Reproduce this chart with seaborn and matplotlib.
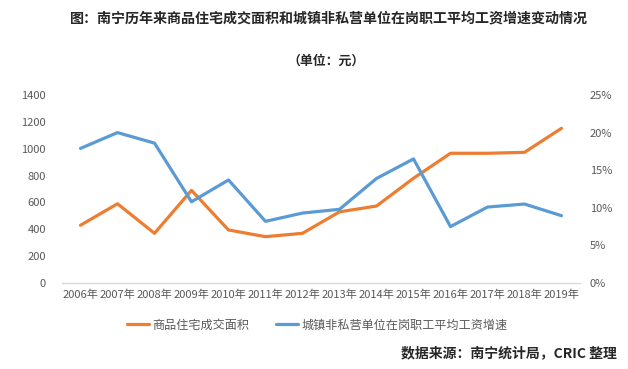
import matplotlib
matplotlib.use("Agg")
import matplotlib.pyplot as plt
import matplotlib.ticker as mticker
from matplotlib.lines import Line2D
import numpy as np
import pandas as pd
import seaborn as sns

# Datos
years = ['2006年', '2007年', '2008年', '2009年', '2010年', '2011年', '2012年',
         '2013年', '2014年', '2015年', '2016年', '2017年', '2018年', '2019年']
area = [430, 590, 370, 690, 395, 345, 370, 530, 573, 780, 966, 966, 973, 1152]
wage_growth = [0.179, 0.200, 0.186, 0.108, 0.137, 0.082, 0.093, 0.098,
               0.139, 0.165, 0.075, 0.101, 0.105, 0.0895]

area_label = '商品住宅成交面积'
wage_label = '城镇非私营单位在岗职工平均工资增速'

sns.set_style('white')
plt.rcParams['font.family'] = ['Noto Sans CJK SC', 'DejaVu Sans']

df = pd.DataFrame({'pos': np.arange(len(years)), 'area': area, 'wage': wage_growth})

orange = '#ED7D31'
blue = '#5B9BD5'
tick_color = '#595959'

fig = plt.figure(figsize=(6.28, 3.69), dpi=100)
ax = fig.add_axes([62 / 628, (369 - 283) / 369, (580 - 62) / 628, (283 - 95) / 369])
ax2 = ax.twinx()

sns.lineplot(data=df, x='pos', y='area', ax=ax, color=orange, linewidth=2.3, legend=False)
sns.lineplot(data=df, x='pos', y='wage', ax=ax2, color=blue, linewidth=2.3, legend=False)

ax.set_xlim(-0.5, len(years) - 0.5)
ax.set_ylim(0, 1400)
ax.set_yticks(range(0, 1401, 200))
ax2.set_ylim(0, 0.25)
ax2.set_yticks(np.arange(0, 0.26, 0.05))
ax2.yaxis.set_major_formatter(mticker.FuncFormatter(lambda v, p: f'{v * 100:.0f}%'))

ax.set_xticks(df['pos'])
ax.set_xticklabels(years)
for a in (ax, ax2):
    a.set_xlabel('')
    a.set_ylabel('')
    a.tick_params(length=0, labelsize=8, colors=tick_color)
    for s in a.spines.values():
        s.set_visible(False)
ax.tick_params(axis='y', pad=11.5)
ax2.tick_params(axis='y', pad=7)
ax.tick_params(axis='x', pad=5)
ax.spines['bottom'].set_visible(True)
ax.spines['bottom'].set_color('#D9D9D9')
ax.spines['bottom'].set_linewidth(1)

# Títulos
fig.text(329 / 628, 1 - 18 / 369, '图：南宁历年来商品住宅成交面积和城镇非私营单位在岗职工平均工资增速变动情况',
         ha='center', va='center', fontsize=10.1, fontweight='bold')
fig.text(326 / 628, 1 - 61 / 369, '（单位：元）', ha='center', va='center',
         fontsize=9.3, fontweight='bold')

# Leyenda
handles = [Line2D([], [], color=orange, linewidth=2.3),
           Line2D([], [], color=blue, linewidth=2.3)]
fig.legend(handles, [area_label, wage_label], loc='center',
           bbox_to_anchor=(0.505, 1 - 325 / 369), ncol=2, frameon=False,
           fontsize=8.7, handlelength=1.8, handletextpad=0.3, columnspacing=2.2,
           labelcolor=tick_color)

fig.text(617 / 628, 1 - 353 / 369, '数据来源：南宁统计局，CRIC 整理', ha='right', va='center',
         fontsize=10, fontweight='bold')

fig.savefig('out.png', dpi=100)
